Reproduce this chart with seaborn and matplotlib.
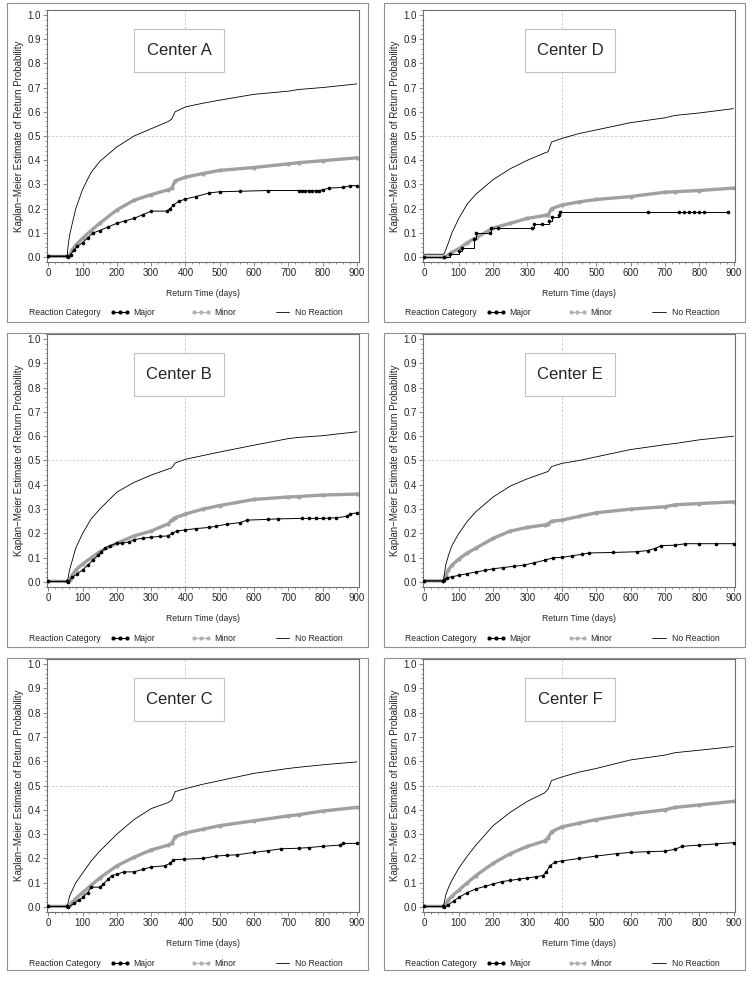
import numpy as np
import pandas as pd
import matplotlib
matplotlib.use("Agg")
import matplotlib.pyplot as plt
from matplotlib.lines import Line2D
from matplotlib.patches import Rectangle
from matplotlib.ticker import MultipleLocator
import seaborn as sns

# common time grid (days) used for the smooth Minor / No Reaction curves
grid_t = [0, 55, 58, 62, 70, 80, 100, 125, 150, 200, 250, 300, 350, 360, 370,
          400, 450, 500, 600, 700, 730, 800, 900]

# Center A
a_none = [0.005, 0.005, 0.05, 0.09, 0.14, 0.2, 0.28, 0.35, 0.395, 0.455, 0.5, 0.53, 0.56, 0.57, 0.6,
          0.62, 0.635, 0.648, 0.672, 0.685, 0.692, 0.7, 0.715]
a_minor = [0.003, 0.003, 0.003, 0.01, 0.03, 0.05, 0.078, 0.11, 0.14, 0.195, 0.235, 0.258, 0.278, 0.285, 0.315,
           0.33, 0.345, 0.358, 0.37, 0.385, 0.39, 0.398, 0.41]
a_major_t = [0, 55, 58, 65, 75, 85, 100, 115, 130, 150, 175, 200, 225, 250, 275, 300, 345, 355, 365, 380,
             400, 430, 470, 500, 560, 640, 730, 740, 750, 760, 770, 780, 790, 800, 820, 860, 880, 900]
a_major_p = [0.003, 0.003, 0.0, 0.01, 0.03, 0.045, 0.06, 0.08, 0.1, 0.11, 0.125, 0.14, 0.15, 0.16, 0.175, 0.19,
             0.19, 0.2, 0.215, 0.23, 0.24, 0.25, 0.265, 0.27, 0.272, 0.275, 0.275, 0.275, 0.275, 0.275, 0.275,
             0.275, 0.275, 0.278, 0.285, 0.288, 0.295, 0.295]

# Center D
d_none = [0.012, 0.012, 0.015, 0.03, 0.06, 0.1, 0.16, 0.22, 0.26, 0.32, 0.365, 0.4, 0.43, 0.435, 0.475,
          0.49, 0.51, 0.525, 0.555, 0.575, 0.585, 0.595, 0.613]
d_minor = [0.0, 0.0, 0.0, 0.003, 0.01, 0.02, 0.035, 0.06, 0.08, 0.12, 0.14, 0.16, 0.172, 0.175, 0.2,
           0.215, 0.228, 0.238, 0.25, 0.268, 0.27, 0.275, 0.285]
d_major_t = [0, 57, 75, 100, 108, 145, 150, 190, 195, 215, 313, 320, 342, 362, 370, 391, 396, 652, 740,
             755, 770, 785, 800, 815, 883]
d_major_p = [0.0, 0.0, 0.012, 0.025, 0.037, 0.075, 0.1, 0.1, 0.12, 0.12, 0.12, 0.135, 0.135, 0.15, 0.165,
             0.175, 0.186, 0.186, 0.186, 0.186, 0.186, 0.186, 0.186, 0.186, 0.186]

# Center B
b_none = [0.003, 0.003, 0.02, 0.05, 0.09, 0.14, 0.2, 0.26, 0.3, 0.37, 0.41, 0.44, 0.465, 0.47, 0.49,
          0.505, 0.52, 0.535, 0.563, 0.59, 0.595, 0.602, 0.618]
b_minor = [0.003, 0.003, 0.005, 0.01, 0.03, 0.05, 0.075, 0.1, 0.125, 0.16, 0.19, 0.21, 0.24, 0.255, 0.265,
           0.28, 0.3, 0.315, 0.34, 0.35, 0.352, 0.358, 0.362]
b_major_t = [0, 55, 58, 70, 85, 100, 115, 130, 145, 155, 165, 180, 200, 215, 235, 250, 275, 300, 325, 350,
             360, 375, 400, 430, 470, 490, 520, 560, 580, 640, 670, 740, 760, 780, 800, 820, 840, 870, 880, 900]
b_major_p = [0.003, 0.003, 0.0, 0.02, 0.035, 0.05, 0.07, 0.09, 0.11, 0.125, 0.14, 0.15, 0.16, 0.16, 0.165,
             0.175, 0.18, 0.185, 0.188, 0.19, 0.2, 0.21, 0.215, 0.22, 0.225, 0.23, 0.238, 0.245, 0.255, 0.258,
             0.26, 0.262, 0.262, 0.262, 0.262, 0.263, 0.265, 0.27, 0.28, 0.285]

# Center E
e_none = [0.005, 0.005, 0.03, 0.07, 0.11, 0.15, 0.2, 0.25, 0.29, 0.35, 0.395, 0.425, 0.45, 0.455, 0.475,
          0.488, 0.5, 0.515, 0.545, 0.565, 0.57, 0.585, 0.6]
e_minor = [0.005, 0.005, 0.01, 0.03, 0.05, 0.07, 0.095, 0.12, 0.14, 0.18, 0.21, 0.225, 0.235, 0.24, 0.25,
           0.255, 0.27, 0.285, 0.3, 0.31, 0.318, 0.323, 0.33]
e_major_t = [0, 55, 58, 65, 80, 100, 125, 150, 175, 200, 230, 260, 290, 320, 350, 375, 400, 430, 460, 480,
             550, 620, 650, 670, 690, 730, 760, 800, 850, 900]
e_major_p = [0.005, 0.005, 0.01, 0.018, 0.022, 0.028, 0.035, 0.042, 0.048, 0.055, 0.06, 0.065, 0.07, 0.08,
             0.09, 0.1, 0.102, 0.108, 0.115, 0.12, 0.122, 0.125, 0.13, 0.138, 0.15, 0.152, 0.158, 0.158,
             0.158, 0.158]

# Center C
c_none = [0.003, 0.003, 0.02, 0.045, 0.07, 0.1, 0.14, 0.19, 0.23, 0.3, 0.36, 0.405, 0.43, 0.44, 0.475,
          0.487, 0.505, 0.52, 0.55, 0.57, 0.575, 0.585, 0.597]
c_minor = [0.003, 0.003, 0.005, 0.01, 0.02, 0.035, 0.06, 0.09, 0.12, 0.17, 0.205, 0.235, 0.255, 0.262, 0.29,
           0.305, 0.32, 0.335, 0.355, 0.375, 0.38, 0.395, 0.41]
c_major_t = [0, 55, 58, 75, 90, 100, 115, 125, 150, 160, 175, 185, 200, 220, 250, 275, 300, 340, 355, 365,
             395, 450, 490, 520, 550, 600, 640, 680, 730, 760, 800, 850, 860, 900]
c_major_p = [0.003, 0.003, 0.0, 0.015, 0.03, 0.04, 0.06, 0.082, 0.082, 0.095, 0.115, 0.13, 0.135, 0.145,
             0.145, 0.155, 0.165, 0.17, 0.18, 0.195, 0.197, 0.2, 0.21, 0.213, 0.215, 0.225, 0.232, 0.24,
             0.242, 0.245, 0.25, 0.255, 0.262, 0.262]

# Center F
f_none = [0.003, 0.003, 0.02, 0.05, 0.08, 0.11, 0.16, 0.21, 0.255, 0.335, 0.39, 0.435, 0.47, 0.485, 0.52,
          0.535, 0.555, 0.57, 0.605, 0.625, 0.635, 0.645, 0.66]
f_minor = [0.003, 0.003, 0.005, 0.012, 0.03, 0.045, 0.07, 0.1, 0.13, 0.18, 0.22, 0.25, 0.272, 0.285, 0.31,
           0.33, 0.345, 0.36, 0.383, 0.4, 0.41, 0.42, 0.435]
f_major_t = [0, 55, 58, 70, 85, 100, 125, 150, 175, 200, 225, 250, 275, 300, 325, 345, 355, 365, 380, 400,
             450, 500, 560, 600, 650, 700, 730, 750, 800, 850, 900]
f_major_p = [0.003, 0.003, 0.0, 0.01, 0.025, 0.04, 0.06, 0.075, 0.085, 0.095, 0.105, 0.11, 0.115, 0.12,
             0.125, 0.13, 0.145, 0.17, 0.185, 0.19, 0.2, 0.21, 0.22, 0.225, 0.228, 0.23, 0.238, 0.25, 0.255,
             0.26, 0.265]

# name, major t, major p, minor, none, column, row, step drawing for Major
panels = [
    ("Center A", a_major_t, a_major_p, a_minor, a_none, 0, 0, False),
    ("Center D", d_major_t, d_major_p, d_minor, d_none, 1, 0, True),
    ("Center B", b_major_t, b_major_p, b_minor, b_none, 0, 1, False),
    ("Center E", e_major_t, e_major_p, e_minor, e_none, 1, 1, False),
    ("Center C", c_major_t, c_major_p, c_minor, c_none, 0, 2, False),
    ("Center F", f_major_t, f_major_p, f_minor, f_none, 1, 2, False),
]

sns.set_style("ticks")
plt.rcParams['font.family'] = ['Liberation Sans', 'DejaVu Sans']

W, H = 754, 981
fig = plt.figure(figsize=(W / 100, H / 100), dpi=100)

col_ax = [(46.6, 358.6), (422.7, 735.3)]
row_ax = [(10, 262), (334, 587), (659, 912)]
col_box = [(7, 368), (384, 745)]
row_box = [(3, 322), (333, 647), (658, 970)]
label_x = [(250, 512), (292, 555)]

GRAY = "#a0a0a0"
AXC = "#707070"

for name, mt, mp, minor, none, c, r, steps in panels:
    # outer panel border
    bx0, bx1 = col_box[c]
    by0, by1 = row_box[r]
    fig.patches.append(Rectangle((bx0 / W, 1 - by1 / H), (bx1 - bx0) / W, (by1 - by0) / H,
                                 transform=fig.transFigure, fill=False, ec="#909090", lw=0.8))

    l, rr = col_ax[c]
    t, b = row_ax[r]
    ax = fig.add_axes([l / W, 1 - b / H, (rr - l) / W, (b - t) / H])

    ax.axvline(400, color="#c8c8c8", lw=0.6, ls=(0, (3, 2)), zorder=0)
    ax.axhline(0.5, color="#c8c8c8", lw=0.6, ls=(0, (3, 2)), zorder=0)

    sns.lineplot(x=grid_t, y=none, ax=ax, color="black", lw=0.6,
                 estimator=None, sort=False, zorder=3)
    sns.lineplot(x=grid_t, y=minor, ax=ax, color=GRAY, lw=2.4, marker="o",
                 markersize=3, markeredgewidth=0, estimator=None, sort=False, zorder=2)
    sns.lineplot(x=mt, y=mp, ax=ax, color="black", lw=0.7, marker="o", markersize=2.6,
                 markeredgewidth=0, drawstyle="steps-post" if steps else "default",
                 estimator=None, sort=False, zorder=4)

    ax.set_xlim(-5, 905)
    ax.set_ylim(-0.02, 1.02)
    ax.xaxis.set_major_locator(MultipleLocator(100))
    ax.xaxis.set_minor_locator(MultipleLocator(20))
    ax.yaxis.set_major_locator(MultipleLocator(0.1))
    ax.yaxis.set_minor_locator(MultipleLocator(0.02))
    ax.set_yticklabels([f"{v:.1f}" for v in ax.get_yticks()])
    ax.tick_params(which="major", length=3, width=0.6, color=AXC, labelsize=7, pad=1.2)
    ax.tick_params(which="minor", length=1.5, width=0.5, color=AXC)
    for s in ax.spines.values():
        s.set_visible(True)
        s.set_color(AXC)
        s.set_linewidth(0.8)

    ax.set_xlabel("Return Time (days)", fontsize=6.2, labelpad=8)
    ax.set_ylabel("Kaplan\u2212Meier Estimate of Return Probability", fontsize=7, labelpad=2.5)

    # center label box
    x0, x1 = label_x[c]
    ax.add_patch(Rectangle((x0, 0.765), x1 - x0, 0.175, fill=True, fc="white",
                           ec="#c0c0c0", lw=0.8, zorder=5))
    ax.text((x0 + x1) / 2, 0.852, name, ha="center", va="center", fontsize=12, zorder=6)

    # legend below
    ax.text(-0.056, -0.202, "Reaction Category", transform=ax.transAxes, fontsize=6.2,
            ha="left", va="center")
    handles = [
        Line2D([], [], color="black", lw=0.8, marker="o", markersize=3, markeredgewidth=0),
        Line2D([], [], color="#b0b0b0", lw=0.8, marker="o", markersize=3, markeredgewidth=0),
        Line2D([], [], color="black", lw=0.6),
    ]
    ax.legend(handles, ["Major", "Minor", "No Reaction"], ncol=3, numpoints=3,
              loc="center left", bbox_to_anchor=(0.205, -0.202), frameon=False,
              fontsize=6.2, handlelength=2.2, handletextpad=0.4, columnspacing=4.3,
              borderaxespad=0, borderpad=0)

fig.savefig("out.png", dpi=100)
